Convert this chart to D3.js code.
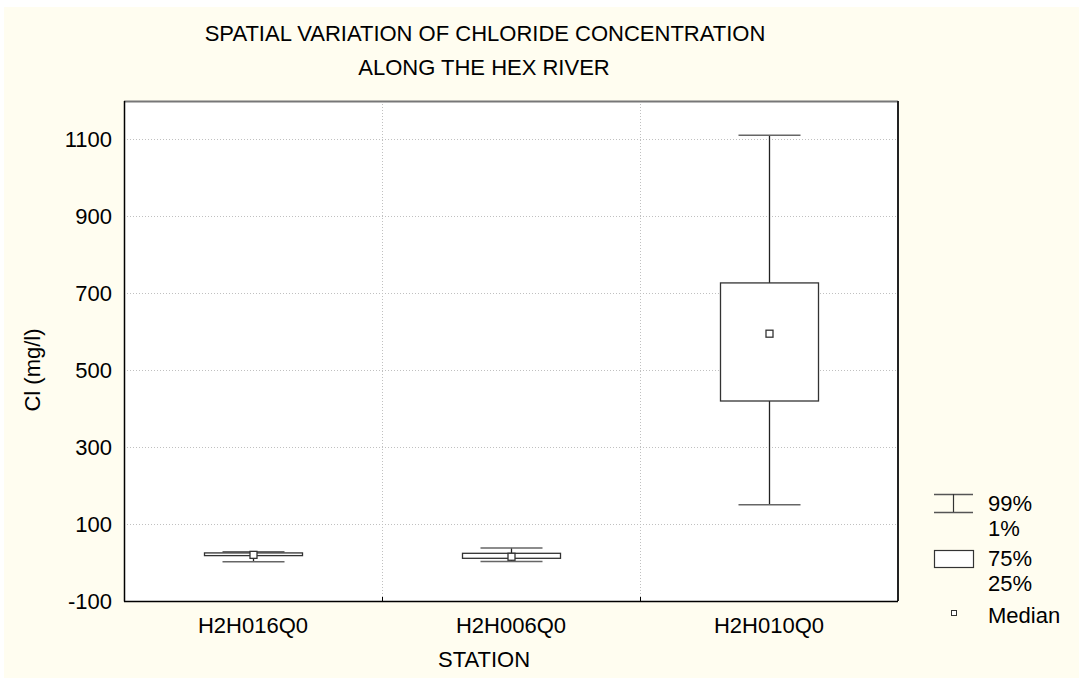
<!DOCTYPE html>
<html>
<head>
<meta charset="utf-8">
<script src="https://cdn.jsdelivr.net/npm/d3@7"></script>
<style>
  body { margin: 0; background: #ffffff; }
  text { font-family: "Liberation Sans", Arial, sans-serif; fill: #000; }
</style>
</head>
<body>
<script>
/* box plot of chloride by station */

var stations = ["H2H016Q0", "H2H006Q0", "H2H010Q0"];
var p01 = [2, 3, 150];
var p25 = [18, 11, 420];
var medians = [20, 15, 595];
var p75 = [25, 24, 727];
var p99 = [28, 38, 1111];
var yTicks = [-100, 100, 300, 500, 700, 900, 1100];

var W = 1079, H = 678;
var pLeft = 124, pRight = 898, pTop = 101, pBottom = 601;
var fs = "22px";

var svg = d3.select("body").append("svg")
    .attr("width", W)
    .attr("height", H);

// cream page
svg.append("rect")
    .attr("x", 4).attr("y", 7)
    .attr("width", W - 4).attr("height", H - 7)
    .attr("fill", "#fffdf0");

var x = d3.scaleBand().domain(stations).range([pLeft, pRight]);
var y = d3.scaleLinear().domain([-100, 1200]).range([pBottom, pTop]);

// plot area
svg.append("rect")
    .attr("x", pLeft).attr("y", pTop)
    .attr("width", pRight - pLeft).attr("height", pBottom - pTop)
    .attr("fill", "#ffffff");

// grid
svg.selectAll("line.hgrid")
    .data(yTicks.filter(function(d){ return d > -100; }))
    .enter().append("line")
    .attr("class", "hgrid")
    .attr("x1", pLeft).attr("x2", pRight)
    .attr("y1", function(d){ return Math.round(y(d)) + 0.5; })
    .attr("y2", function(d){ return Math.round(y(d)) + 0.5; })
    .attr("stroke", "#c0c0c0")
    .attr("stroke-dasharray", "1,2");

svg.selectAll("line.vgrid")
    .data(stations.slice(1))
    .enter().append("line")
    .attr("class", "vgrid")
    .attr("x1", function(d){ return Math.round(x(d)) + 0.5; })
    .attr("x2", function(d){ return Math.round(x(d)) + 0.5; })
    .attr("y1", pTop).attr("y2", pBottom)
    .attr("stroke", "#c0c0c0")
    .attr("stroke-dasharray", "1,2");

// small ticks on x axis at category boundaries
svg.selectAll("line.xtick")
    .data(stations.slice(1))
    .enter().append("line")
    .attr("x1", function(d){ return Math.round(x(d)) + 0.5; })
    .attr("x2", function(d){ return Math.round(x(d)) + 0.5; })
    .attr("y1", pBottom - 4).attr("y2", pBottom)
    .attr("stroke", "#000");

// axes frame
svg.append("line").attr("x1", pLeft).attr("x2", pRight)
    .attr("y1", pTop + 0.5).attr("y2", pTop + 0.5)
    .attr("stroke", "#777").attr("stroke-width", 2);
svg.append("line").attr("x1", pRight).attr("x2", pRight)
    .attr("y1", pTop).attr("y2", pBottom)
    .attr("stroke", "#222").attr("stroke-width", 2);
svg.append("line").attr("x1", pLeft + 0.5).attr("x2", pLeft + 0.5)
    .attr("y1", pTop).attr("y2", pBottom + 0.5)
    .attr("stroke", "#000").attr("stroke-width", 1.5);
svg.append("line").attr("x1", pLeft).attr("x2", pRight)
    .attr("y1", pBottom + 0.5).attr("y2", pBottom + 0.5)
    .attr("stroke", "#000").attr("stroke-width", 1.5);

// y tick labels
svg.selectAll("text.ytl")
    .data(yTicks)
    .enter().append("text")
    .attr("x", 112)
    .attr("y", function(d){ return y(d) + 8; })
    .attr("text-anchor", "end")
    .style("font-size", fs)
    .text(function(d){ return d; });

// x tick labels
svg.selectAll("text.xtl")
    .data(stations)
    .enter().append("text")
    .attr("x", function(d){ return x(d) + x.bandwidth() / 2; })
    .attr("y", 633)
    .attr("text-anchor", "middle")
    .style("font-size", fs)
    .text(function(d){ return d; });

// boxes
var boxW = 98, capW = 62, medS = 7;
stations.forEach(function(s, i){
    var cx = Math.round(x(s) + x.bandwidth() / 2) + 0.5;
    var g = svg.append("g");
    // whisker
    g.append("line")
        .attr("x1", cx).attr("x2", cx)
        .attr("y1", y(p99[i])).attr("y2", y(p01[i]))
        .attr("stroke", "#222").attr("stroke-width", 1.3);
    g.append("line")
        .attr("x1", cx - capW / 2).attr("x2", cx + capW / 2)
        .attr("y1", y(p99[i])).attr("y2", y(p99[i]))
        .attr("stroke", "#666").attr("stroke-width", 1.5);
    g.append("line")
        .attr("x1", cx - capW / 2).attr("x2", cx + capW / 2)
        .attr("y1", y(p01[i])).attr("y2", y(p01[i]))
        .attr("stroke", "#666").attr("stroke-width", 1.5);
    g.append("rect")
        .attr("x", cx - boxW / 2)
        .attr("y", y(p75[i]))
        .attr("width", boxW)
        .attr("height", Math.max(1, y(p25[i]) - y(p75[i])))
        .attr("fill", "#fff")
        .attr("stroke", "#333").attr("stroke-width", 1.3);
    g.append("rect")
        .attr("x", cx - medS / 2)
        .attr("y", y(medians[i]) - medS / 2)
        .attr("width", medS).attr("height", medS)
        .attr("fill", "#fff")
        .attr("stroke", "#333").attr("stroke-width", 1.3);
});

// titles
svg.append("text").attr("x", 485).attr("y", 41)
    .attr("text-anchor", "middle").style("font-size", fs)
    .text("SPATIAL VARIATION OF CHLORIDE CONCENTRATION");
svg.append("text").attr("x", 484).attr("y", 75)
    .attr("text-anchor", "middle").style("font-size", fs)
    .text("ALONG THE HEX RIVER");
svg.append("text").attr("x", 484).attr("y", 667)
    .attr("text-anchor", "middle").style("font-size", fs)
    .text("STATION");
svg.append("text")
    .attr("transform", "translate(40,370) rotate(-90)")
    .attr("text-anchor", "middle").style("font-size", fs)
    .text("Cl (mg/l)");

// legend
var lg = svg.append("g");
lg.append("line").attr("x1", 934).attr("x2", 973).attr("y1", 494.5).attr("y2", 494.5)
    .attr("stroke", "#555").attr("stroke-width", 1.3);
lg.append("line").attr("x1", 934).attr("x2", 973).attr("y1", 512.5).attr("y2", 512.5)
    .attr("stroke", "#555").attr("stroke-width", 1.3);
lg.append("line").attr("x1", 953.5).attr("x2", 953.5).attr("y1", 494).attr("y2", 512)
    .attr("stroke", "#333").attr("stroke-width", 1.2);
lg.append("rect").attr("x", 934.5).attr("y", 550.5).attr("width", 39).attr("height", 17)
    .attr("fill", "#fff").attr("stroke", "#333").attr("stroke-width", 1.2);
lg.append("rect").attr("x", 951.5).attr("y", 610.5).attr("width", 5).attr("height", 5)
    .attr("fill", "#fff").attr("stroke", "#333").attr("stroke-width", 1);

var legText = [["99%", 511], ["1%", 536], ["75%", 566], ["25%", 591], ["Median", 623]];
lg.selectAll("text")
    .data(legText)
    .enter().append("text")
    .attr("x", 988)
    .attr("y", function(d){ return d[1]; })
    .style("font-size", fs)
    .text(function(d){ return d[0]; });
</script>
</body>
</html>
